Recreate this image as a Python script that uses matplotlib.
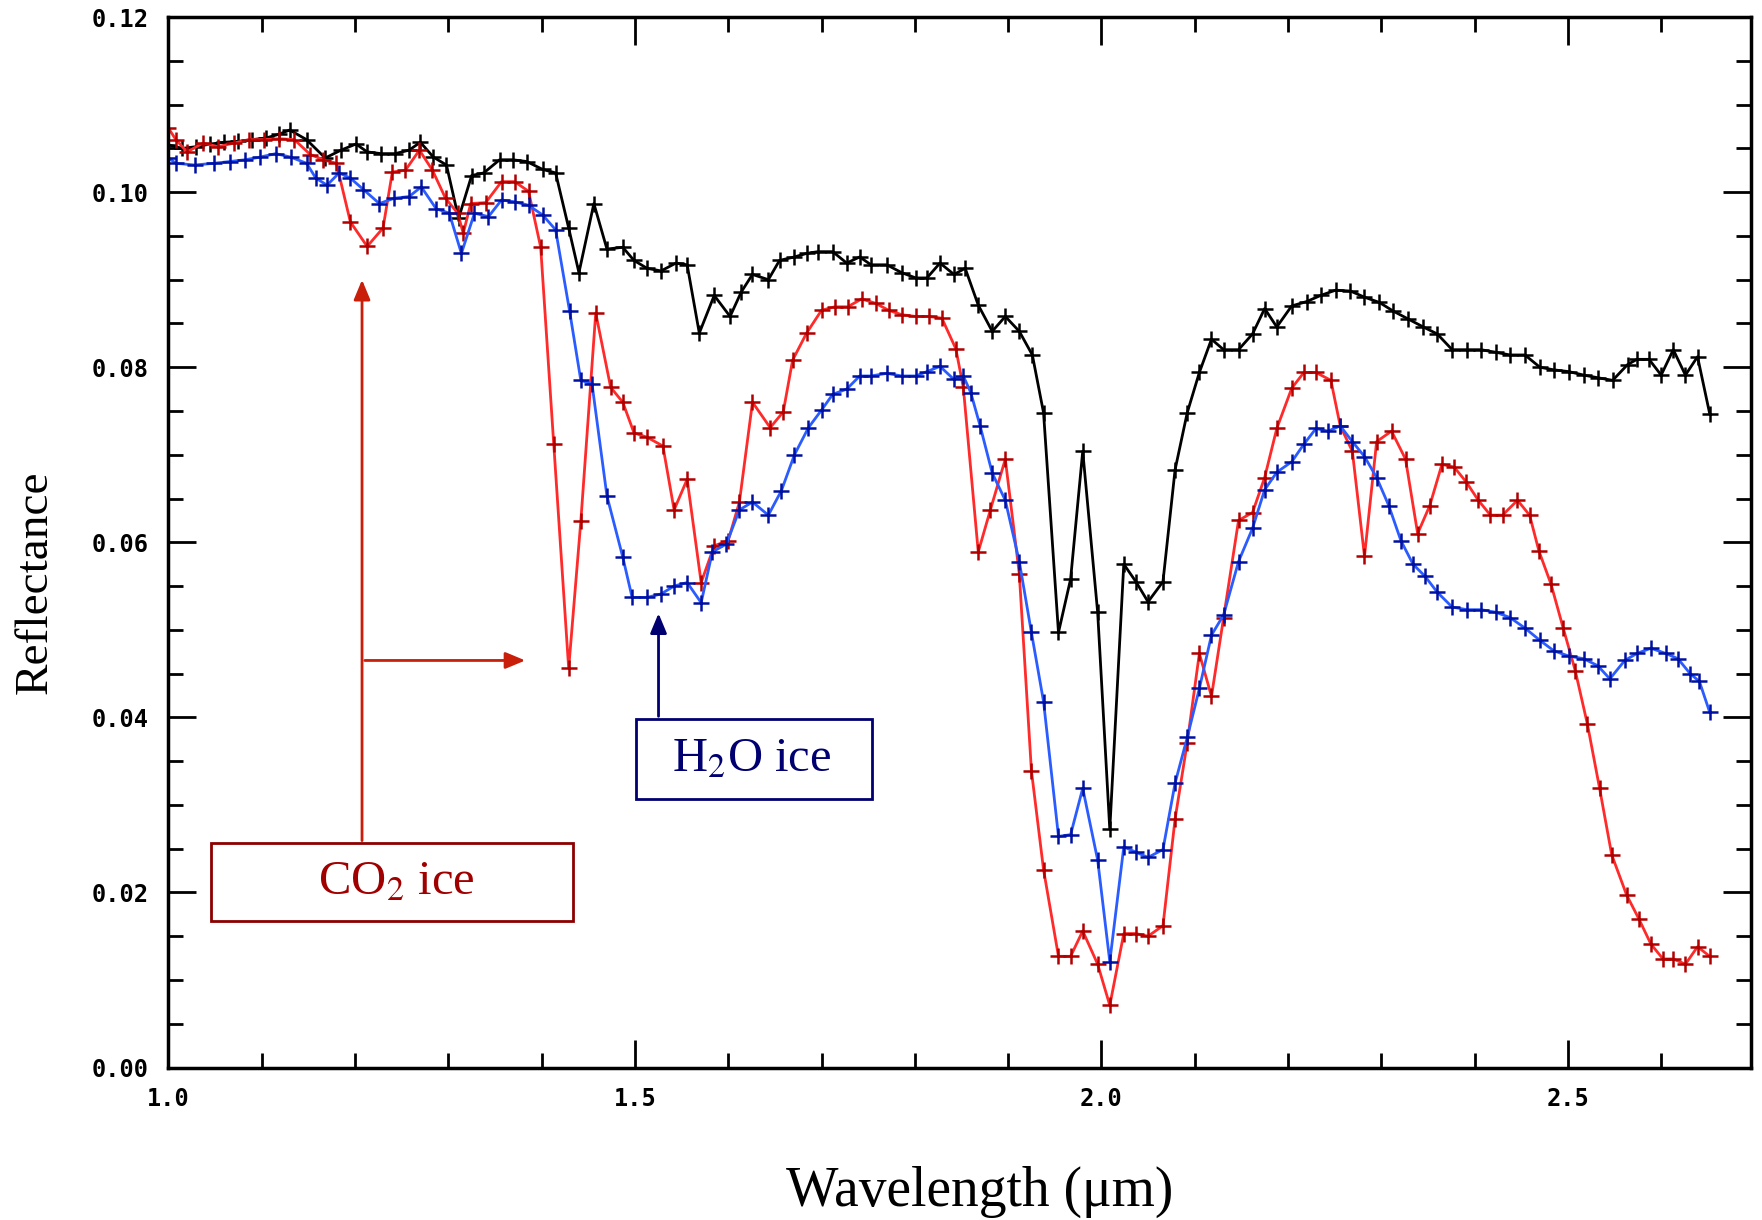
import matplotlib
matplotlib.use("Agg")
from matplotlib import pyplot as plt
from matplotlib.patches import Rectangle
from matplotlib.ticker import MultipleLocator, FormatStrFormatter

plt.rcParams["mathtext.fontset"] = "stix"

# black spectrum
wl_black = [1.000, 1.015, 1.030, 1.045, 1.060, 1.075, 1.090, 1.105, 1.118, 1.130,
            1.148, 1.168, 1.185, 1.201, 1.213, 1.228, 1.243, 1.258, 1.270, 1.284,
            1.298, 1.311, 1.325, 1.338, 1.355, 1.369, 1.384, 1.401, 1.415, 1.429,
            1.440, 1.456, 1.470, 1.487, 1.499, 1.513, 1.528, 1.544, 1.556, 1.569,
            1.585, 1.602, 1.614, 1.626, 1.643, 1.655, 1.671, 1.684, 1.696, 1.712,
            1.727, 1.741, 1.753, 1.770, 1.786, 1.801, 1.813, 1.827, 1.842, 1.854,
            1.868, 1.883, 1.897, 1.912, 1.926, 1.938, 1.954, 1.967, 1.980, 1.996,
            2.009, 2.024, 2.037, 2.050, 2.066, 2.079, 2.092, 2.105, 2.118, 2.131,
            2.147, 2.162, 2.175, 2.188, 2.204, 2.220, 2.235, 2.251, 2.267, 2.282,
            2.298, 2.313, 2.329, 2.345, 2.360, 2.376, 2.392, 2.407, 2.423, 2.438,
            2.454, 2.470, 2.485, 2.501, 2.517, 2.532, 2.548, 2.564, 2.574, 2.587,
            2.600, 2.613, 2.626, 2.639, 2.652]
r_black = [0.1054, 0.1050, 0.1052, 0.1055, 0.1057, 0.1058, 0.1060, 0.1062, 0.1066, 0.1071,
           0.1060, 0.1039, 0.1048, 0.1055, 0.1046, 0.1044, 0.1044, 0.1048, 0.1057, 0.1040,
           0.1031, 0.0970, 0.1019, 0.1022, 0.1037, 0.1037, 0.1035, 0.1026, 0.1022, 0.0959,
           0.0908, 0.0987, 0.0935, 0.0937, 0.0922, 0.0913, 0.0910, 0.0919, 0.0917, 0.0839,
           0.0882, 0.0858, 0.0886, 0.0906, 0.0900, 0.0922, 0.0926, 0.0930, 0.0932, 0.0932,
           0.0919, 0.0926, 0.0917, 0.0917, 0.0908, 0.0902, 0.0902, 0.0919, 0.0906, 0.0913,
           0.0871, 0.0841, 0.0858, 0.0841, 0.0814, 0.0748, 0.0497, 0.0558, 0.0704, 0.0520,
           0.0272, 0.0575, 0.0555, 0.0532, 0.0555, 0.0683, 0.0748, 0.0794, 0.0832, 0.0820,
           0.0820, 0.0838, 0.0867, 0.0846, 0.0870, 0.0875, 0.0882, 0.0888, 0.0887, 0.0880,
           0.0874, 0.0864, 0.0855, 0.0846, 0.0838, 0.0820, 0.0820, 0.0820, 0.0817, 0.0814,
           0.0814, 0.0800, 0.0797, 0.0795, 0.0791, 0.0788, 0.0785, 0.0803, 0.0809, 0.0809,
           0.0791, 0.0820, 0.0791, 0.0812, 0.0747]

# red spectrum
wl_red = [1.000, 1.008, 1.020, 1.037, 1.053, 1.070, 1.086, 1.102, 1.119, 1.135,
          1.152, 1.166, 1.180, 1.195, 1.213, 1.230, 1.240, 1.254, 1.269, 1.283,
          1.297, 1.310, 1.316, 1.324, 1.340, 1.357, 1.371, 1.386, 1.399, 1.413,
          1.429, 1.442, 1.458, 1.474, 1.487, 1.499, 1.513, 1.530, 1.542, 1.556,
          1.571, 1.585, 1.600, 1.612, 1.626, 1.645, 1.659, 1.669, 1.684, 1.700,
          1.714, 1.728, 1.743, 1.758, 1.772, 1.786, 1.801, 1.815, 1.829, 1.844,
          1.852, 1.868, 1.881, 1.897, 1.912, 1.925, 1.938, 1.954, 1.967, 1.980,
          1.996, 2.009, 2.024, 2.037, 2.050, 2.066, 2.079, 2.092, 2.105, 2.118,
          2.131, 2.147, 2.162, 2.175, 2.188, 2.204, 2.217, 2.230, 2.246, 2.256,
          2.269, 2.282, 2.295, 2.311, 2.326, 2.339, 2.352, 2.365, 2.378, 2.391,
          2.404, 2.417, 2.430, 2.446, 2.459, 2.469, 2.482, 2.495, 2.508, 2.521,
          2.534, 2.547, 2.563, 2.576, 2.589, 2.602, 2.613, 2.626, 2.639, 2.652]
r_red = [0.1073, 0.1060, 0.1046, 0.1056, 0.1052, 0.1056, 0.1060, 0.1060, 0.1061, 0.1060,
         0.1043, 0.1037, 0.1033, 0.0966, 0.0938, 0.0959, 0.1023, 0.1025, 0.1048, 0.1025,
         0.0993, 0.0976, 0.0953, 0.0987, 0.0988, 0.1012, 0.1012, 0.1001, 0.0937, 0.0712,
         0.0456, 0.0624, 0.0862, 0.0777, 0.0760, 0.0725, 0.0720, 0.0710, 0.0637, 0.0672,
         0.0554, 0.0596, 0.0602, 0.0646, 0.0760, 0.0731, 0.0749, 0.0808, 0.0839, 0.0865,
         0.0869, 0.0869, 0.0878, 0.0873, 0.0865, 0.0860, 0.0858, 0.0858, 0.0856, 0.0821,
         0.0777, 0.0589, 0.0637, 0.0695, 0.0564, 0.0339, 0.0226, 0.0127, 0.0127, 0.0156,
         0.0118, 0.0071, 0.0153, 0.0153, 0.0150, 0.0162, 0.0284, 0.0371, 0.0473, 0.0424,
         0.0514, 0.0625, 0.0634, 0.0674, 0.0730, 0.0776, 0.0794, 0.0794, 0.0785, 0.0733,
         0.0704, 0.0584, 0.0715, 0.0727, 0.0695, 0.0610, 0.0642, 0.0689, 0.0686, 0.0669,
         0.0648, 0.0631, 0.0631, 0.0648, 0.0631, 0.0590, 0.0552, 0.0502, 0.0453, 0.0392,
         0.0319, 0.0243, 0.0197, 0.0170, 0.0141, 0.0124, 0.0124, 0.0118, 0.0138, 0.0127]

# blue spectrum
wl_blue = [1.000, 1.008, 1.028, 1.049, 1.066, 1.082, 1.098, 1.115, 1.131, 1.148,
           1.158, 1.170, 1.183, 1.195, 1.209, 1.226, 1.242, 1.258, 1.271, 1.287,
           1.301, 1.314, 1.328, 1.343, 1.357, 1.371, 1.386, 1.401, 1.415, 1.430,
           1.442, 1.454, 1.470, 1.487, 1.497, 1.513, 1.528, 1.542, 1.556, 1.571,
           1.583, 1.598, 1.612, 1.626, 1.643, 1.657, 1.671, 1.686, 1.700, 1.712,
           1.727, 1.741, 1.753, 1.770, 1.786, 1.801, 1.813, 1.827, 1.842, 1.852,
           1.860, 1.870, 1.883, 1.897, 1.912, 1.925, 1.938, 1.954, 1.967, 1.980,
           1.996, 2.009, 2.024, 2.037, 2.050, 2.066, 2.079, 2.092, 2.105, 2.118,
           2.131, 2.147, 2.162, 2.175, 2.188, 2.204, 2.217, 2.230, 2.243, 2.256,
           2.269, 2.282, 2.295, 2.308, 2.321, 2.334, 2.347, 2.360, 2.376, 2.392,
           2.407, 2.423, 2.438, 2.454, 2.470, 2.485, 2.501, 2.517, 2.532, 2.545,
           2.561, 2.574, 2.589, 2.605, 2.618, 2.631, 2.641, 2.652]
r_blue = [0.1039, 0.1033, 0.1031, 0.1033, 0.1035, 0.1037, 0.1040, 0.1044, 0.1040, 0.1033,
          0.1016, 0.1008, 0.1022, 0.1016, 0.1003, 0.0987, 0.0993, 0.0995, 0.1006, 0.0981,
          0.0976, 0.0930, 0.0976, 0.0972, 0.0991, 0.0989, 0.0985, 0.0974, 0.0957, 0.0864,
          0.0785, 0.0781, 0.0653, 0.0583, 0.0537, 0.0537, 0.0541, 0.0550, 0.0554, 0.0531,
          0.0589, 0.0598, 0.0637, 0.0646, 0.0631, 0.0659, 0.0700, 0.0731, 0.0751, 0.0769,
          0.0775, 0.0790, 0.0790, 0.0793, 0.0790, 0.0790, 0.0795, 0.0801, 0.0786, 0.0790,
          0.0771, 0.0733, 0.0679, 0.0648, 0.0578, 0.0497, 0.0418, 0.0264, 0.0266, 0.0319,
          0.0237, 0.0121, 0.0252, 0.0246, 0.0240, 0.0249, 0.0325, 0.0377, 0.0433, 0.0494,
          0.0517, 0.0578, 0.0616, 0.0660, 0.0680, 0.0692, 0.0712, 0.0730, 0.0727, 0.0733,
          0.0715, 0.0698, 0.0674, 0.0642, 0.0602, 0.0575, 0.0561, 0.0543, 0.0526, 0.0523,
          0.0523, 0.0520, 0.0514, 0.0502, 0.0488, 0.0476, 0.0470, 0.0467, 0.0459, 0.0444,
          0.0465, 0.0473, 0.0479, 0.0473, 0.0467, 0.0450, 0.0441, 0.0406]

fig = plt.figure(figsize=(17.62, 12.2), dpi=100)
ax = fig.add_axes([0.0956, 0.125, 0.898, 0.861])

ax.plot(wl_black, r_black, color="black", lw=2, marker="+", ms=11, mew=1.8, mec="black")
ax.plot(wl_red, r_red, color="#ff2a2a", lw=2, marker="+", ms=11, mew=1.8, mec="#b00000")
ax.plot(wl_blue, r_blue, color="#2a5cff", lw=2, marker="+", ms=11, mew=1.8, mec="#0010a0")

ax.set_xlim(1.0, 2.696)
ax.set_ylim(0.0, 0.12)

ax.xaxis.set_major_locator(MultipleLocator(0.5))
ax.xaxis.set_minor_locator(MultipleLocator(0.1))
ax.yaxis.set_major_locator(MultipleLocator(0.02))
ax.yaxis.set_minor_locator(MultipleLocator(0.005))
ax.xaxis.set_major_formatter(FormatStrFormatter("%.1f"))
ax.yaxis.set_major_formatter(FormatStrFormatter("%.2f"))
ax.tick_params(which="both", direction="in", top=True, right=True, width=2)
ax.tick_params(which="major", length=20, labelsize=17, pad=14)
ax.tick_params(which="minor", length=11)
for lab in ax.get_xticklabels() + ax.get_yticklabels():
    lab.set_family("DejaVu Sans Mono")
    lab.set_fontweight("bold")
for sp in ax.spines.values():
    sp.set_linewidth(2.5)

ax.set_xlabel("Wavelength (\u03bcm)", fontsize=40, family="Liberation Serif", va="center")
ax.xaxis.set_label_coords(0.513, -0.118)
ax.set_ylabel("Reflectance", fontsize=34, family="Liberation Serif", va="center")
ax.yaxis.set_label_coords(-0.084, 0.462)

# CO2 ice label and arrows
co2_col = "#8b0000"
ax.add_patch(Rectangle((1.0456, 0.0167), 0.3881, 0.0089, fill=False, ec=co2_col, lw=2))
ax.text(1.244, 0.0212, "CO$_2$ ice", color="#a00000", fontsize=35,
        family="Liberation Serif", ha="center", va="center")
ax.annotate("", xy=(1.2075, 0.0903), xytext=(1.2075, 0.0256),
            arrowprops=dict(arrowstyle="-|>,head_length=1.2,head_width=0.5", color="#c81e0a", lw=2))
ax.annotate("", xy=(1.3855, 0.0465), xytext=(1.2075, 0.0465),
            arrowprops=dict(arrowstyle="-|>,head_length=1.2,head_width=0.5", color="#c81e0a", lw=2))

# H2O ice label and arrow
h2o_col = "#000070"
ax.add_patch(Rectangle((1.5013, 0.0307), 0.2530, 0.0091, fill=False, ec=h2o_col, lw=2))
ax.text(1.625, 0.0352, "H$_2$O ice", color=h2o_col, fontsize=35,
        family="Liberation Serif", ha="center", va="center")
ax.annotate("", xy=(1.5253, 0.0522), xytext=(1.5253, 0.0398),
            arrowprops=dict(arrowstyle="-|>,head_length=1.2,head_width=0.5", color=h2o_col, lw=2))

fig.savefig("out.png", dpi=100)
